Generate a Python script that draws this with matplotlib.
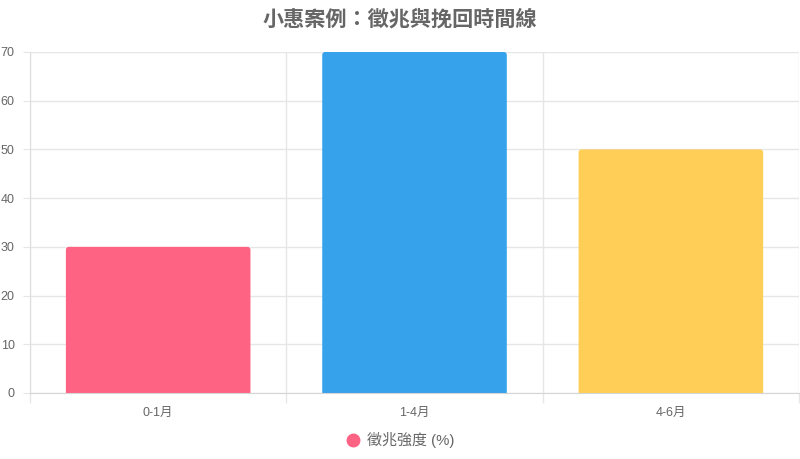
import matplotlib.pyplot as plt
from matplotlib.lines import Line2D
from matplotlib.patches import FancyBboxPatch
import numpy as np

plt.rcParams['font.family'] = ['Liberation Sans', 'Noto Sans CJK TC', 'DejaVu Sans']

# ── data ──────────────────────────────────────────────────────────────────────
categories = ["0-1月", "1-4月", "4-6月"]
values     = [30, 70, 50]
colors     = ["#FF6384", "#36A2EB", "#FFCE56"]
series_label = "徵兆強度 (%)"
title = "小惠案例：徵兆與挽回時間線"

TEXT = "#666666"
GRID = "#e6e6e6"

# ── plot ──────────────────────────────────────────────────────────────────────
fig = plt.figure(figsize=(8, 4.59), dpi=100)
ax = fig.add_axes([0.0375, 0.1438, 0.9613, 0.743])

ax.set_xlim(-0.5, len(categories) - 0.5)
ax.set_ylim(0, 70)

# bars with slightly rounded top corners (bottom part hidden below the axis)
x = np.arange(len(categories))
width = 0.72
rx = 3 / 257          # ~3 px in x data units
ry = 3 / (341 / 70)   # ~3 px in y data units
for xi, v, c in zip(x, values, colors):
    box = FancyBboxPatch((xi - width / 2, -5), width, v + 5,
                         boxstyle=f"round,pad=0,rounding_size={rx}",
                         mutation_aspect=ry / rx,
                         facecolor=c, edgecolor="none", zorder=3)
    ax.add_patch(box)

ax.set_yticks(range(0, 71, 10))
ax.set_xticks(x)
ax.set_xticklabels(categories)
ax.set_xticks(np.arange(-0.5, len(categories), 1.0), minor=True)

ax.tick_params(axis="x", which="major", length=0, pad=10, labelsize=9, labelcolor=TEXT)
ax.tick_params(axis="x", which="minor", length=7, color=GRID, width=1)
ax.tick_params(axis="y", length=5, pad=6, labelsize=9, labelcolor=TEXT, color=GRID)

ax.grid(axis="y", color=GRID, linewidth=1, zorder=0)
ax.grid(axis="x", which="minor", color=GRID, linewidth=1, zorder=0)
ax.grid(axis="x", which="major", visible=False)

for s in ["top", "right"]:
    ax.spines[s].set_visible(False)
ax.spines["left"].set_color("#dddddd")
ax.spines["bottom"].set_color("#d5d5d5")
ax.spines["bottom"].set_zorder(4)

fig.text(0.5, 1 - 19 / 459, title, ha="center", va="center",
         fontsize=15.2, fontweight="bold", color=TEXT)

handle = Line2D([], [], marker="o", linestyle="", markersize=9,
                markerfacecolor=colors[0], markeredgecolor=colors[0])
fig.legend([handle], [series_label], loc="center", bbox_to_anchor=(0.5, 1 - 440 / 459),
           frameon=False, fontsize=10.8, labelcolor=TEXT, handletextpad=0.4,
           handlelength=1.0)

plt.savefig("out.png", dpi=100, facecolor="white")
